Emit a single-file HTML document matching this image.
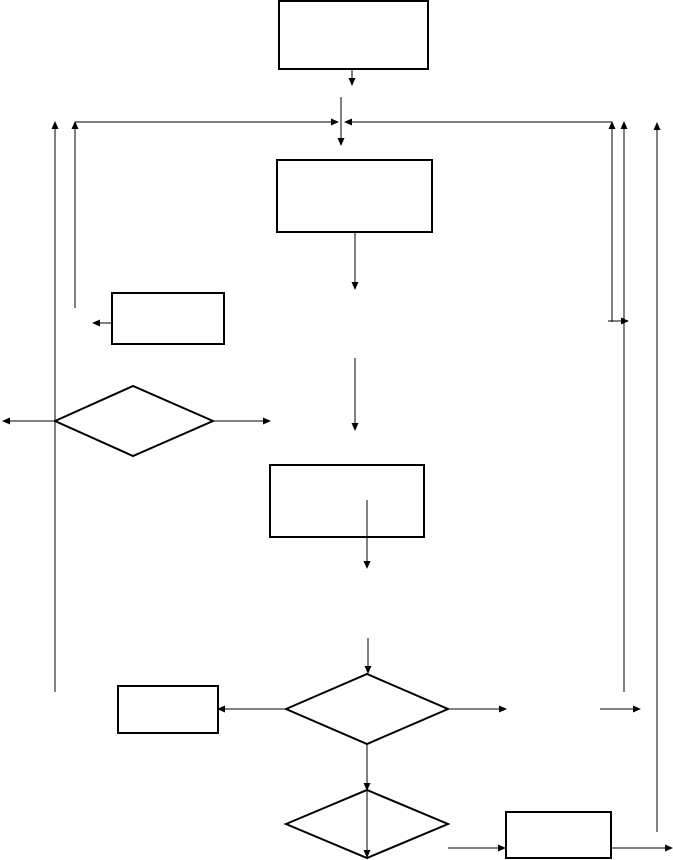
<!DOCTYPE html>
<html><head><meta charset="utf-8"><style>
html,body{margin:0;padding:0;background:#fff;}
svg{display:block;}
</style></head><body>
<svg width="673" height="860" viewBox="0 0 673 860" xmlns="http://www.w3.org/2000/svg">
<defs>
<marker id="a" markerWidth="8" markerHeight="8" refX="7" refY="4" orient="auto" markerUnits="userSpaceOnUse">
<path d="M0,0.5 L8,4 L0,7.5 Z" fill="#000" shape-rendering="auto"/>
</marker>
</defs>
<g fill="none" stroke="#000">
<rect x="279" y="1" width="149" height="68" stroke-width="2"/>
<rect x="277" y="160" width="155" height="72" stroke-width="2"/>
<rect x="112" y="293" width="112" height="51" stroke-width="2"/>
<rect x="270" y="465" width="154" height="72" stroke-width="2"/>
<rect x="118" y="686" width="100" height="47" stroke-width="2"/>
<rect x="506" y="812" width="105" height="46" stroke-width="2"/>
<polygon points="55,421 133,386 213,421 133,456" stroke-width="2"/>
<polygon points="286,709 367,674 448,709 367,744" stroke-width="2"/>
<polygon points="286,824 367,790 448,824 367,858" stroke-width="2"/>
</g>
<g stroke="#000" stroke-width="1" fill="none" marker-end="url(#a)" shape-rendering="crispEdges">
<line x1="352" y1="70" x2="352" y2="85"/>
<line x1="341" y1="97" x2="341" y2="145"/>
<line x1="75" y1="122" x2="338" y2="122"/>
<line x1="612" y1="122" x2="345" y2="122"/>
<line x1="75" y1="308" x2="75" y2="122"/>
<line x1="612" y1="322" x2="612" y2="122"/>
<line x1="624" y1="692" x2="624" y2="122"/>
<line x1="657" y1="832" x2="657" y2="123"/>
<line x1="55" y1="692" x2="55" y2="122"/>
<line x1="355" y1="232" x2="355" y2="289"/>
<line x1="112" y1="323" x2="93" y2="323"/>
<line x1="608" y1="321" x2="628" y2="321"/>
<line x1="355" y1="358" x2="355" y2="430"/>
<line x1="55" y1="421" x2="3" y2="421"/>
<line x1="213" y1="421" x2="270" y2="421"/>
<line x1="367" y1="500" x2="367" y2="568"/>
<line x1="368" y1="638" x2="368" y2="673"/>
<line x1="286" y1="709" x2="218" y2="709"/>
<line x1="448" y1="709" x2="506" y2="709"/>
<line x1="600" y1="709" x2="640" y2="709"/>
<line x1="367" y1="744" x2="367" y2="790"/>
<line x1="367" y1="790" x2="367" y2="857"/>
<line x1="448" y1="848" x2="505" y2="848"/>
<line x1="611" y1="848" x2="672" y2="848"/>
</g>
</svg>
</body></html>
